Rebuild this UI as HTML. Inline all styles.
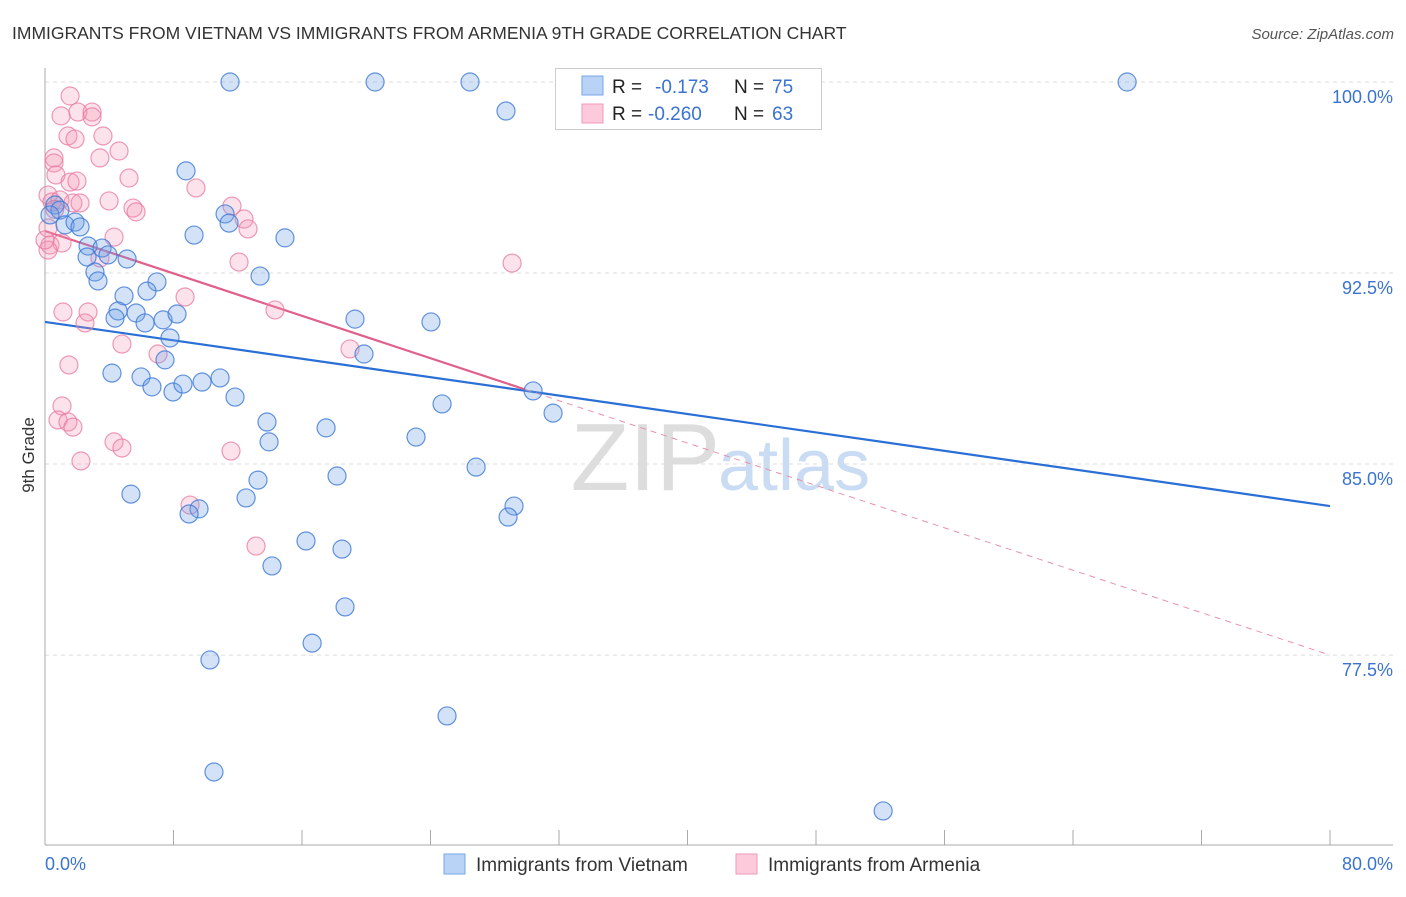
<!DOCTYPE html>
<html><head><meta charset="utf-8"><style>
body{margin:0;background:#fff;font-family:"Liberation Sans",sans-serif;}
svg text{font-family:"Liberation Sans",sans-serif;}
</style></head><body>
<svg id="chart" width="1406" height="892" viewBox="0 0 1406 892">
<text x="12" y="39" font-size="17.5" fill="#333">IMMIGRANTS FROM VIETNAM VS IMMIGRANTS FROM ARMENIA 9TH GRADE CORRELATION CHART</text>
<text x="1394" y="39" font-size="15" fill="#555" font-style="italic" text-anchor="end">Source: ZipAtlas.com</text>
<text x="720" y="490" font-size="96" fill="#ddd" text-anchor="end" font-family="Liberation Serif">ZIP</text>
<text x="718" y="490" font-size="72" fill="#c9dcf3">atlas</text>
<g id="grid"></g>
<g id="axes"></g>
<g id="lines"></g>
<g id="pts"></g>
<text transform="translate(34,455) rotate(-90)" font-size="17" fill="#333" text-anchor="middle">9th Grade</text>
<g>
<rect x="555.5" y="68.5" width="266" height="61" fill="#fff" stroke="#ccc"/>
<rect x="582" y="76" width="21" height="19" fill="#b8d3f5" stroke="#7aa6e6"/>
<rect x="582" y="104" width="21" height="19" fill="#fccadb" stroke="#f09ab8"/>
<text x="612" y="93" font-size="19" fill="#222">R = </text><text x="655" y="93" font-size="19" fill="#3a73d0">-0.173</text>
<text x="734" y="93" font-size="19" fill="#222">N = </text><text x="772" y="93" font-size="19" fill="#3a73d0">75</text>
<text x="612" y="120" font-size="19" fill="#222">R = </text><text x="648" y="120" font-size="19" fill="#3a73d0">-0.260</text>
<text x="734" y="120" font-size="19" fill="#222">N = </text><text x="772" y="120" font-size="19" fill="#3a73d0">63</text>
</g>
<g>
<rect x="444" y="854" width="21" height="20" fill="#b8d3f5" stroke="#7aa6e6"/>
<text x="476" y="871" font-size="19" fill="#333">Immigrants from Vietnam</text>
<rect x="736" y="854" width="21" height="20" fill="#fccadb" stroke="#f09ab8"/>
<text x="768" y="871" font-size="19" fill="#333">Immigrants from Armenia</text>
</g>
</svg>
<script>
const yTicks=[100,92.5,85,77.5];
const yTickLabels=["100.0%","92.5%","85.0%","77.5%"];
const xTicks=[0,10,20,30,40,50,60,70,80,90,100].map(v=>v*0.8);
const xEndLabels=["0.0%","80.0%"];
const vietX=[11.52,20.55,26.46,43.15,67.37,28.70,8.78,11.21,11.46,9.28,14.94,0.62,0.93,0.31,1.25,1.87,2.18,2.68,3.55,3.92,2.62,5.11,3.11,3.30,13.39,6.97,6.35,4.92,4.55,4.36,5.67,6.23,7.35,8.22,19.30,24.03,7.78,7.47,19.86,4.17,5.98,6.66,7.97,8.59,9.78,10.90,11.83,30.39,24.72,31.63,13.82,13.95,17.50,23.10,26.84,13.26,18.18,5.35,12.52,9.59,8.97,29.20,28.83,16.25,18.49,14.13,18.68,16.63,10.27,25.03,10.52,52.18];
const vietY=[100,100,100,100,100,98.86,96.51,94.82,94.46,93.99,93.88,95.17,94.97,94.78,94.39,94.50,94.31,93.56,93.48,93.21,93.13,93.05,92.54,92.19,92.38,92.15,91.79,91.60,91.01,90.73,90.93,90.54,90.66,90.89,90.69,90.58,89.95,89.09,89.32,88.57,88.42,88.03,87.83,88.14,88.22,88.38,87.63,87.87,87.36,87.00,86.65,85.87,86.42,86.06,84.88,84.37,84.53,83.82,83.67,83.24,83.04,83.35,82.92,81.98,81.66,81.00,79.39,77.97,77.31,75.11,72.91,71.38];
const armX=[1.56,2.05,2.93,2.93,1.00,1.43,1.87,3.61,0.56,0.56,3.42,4.61,0.68,1.56,1.99,5.23,9.40,0.19,0.44,0.93,1.74,2.18,3.99,11.64,5.48,5.67,12.39,0.19,12.64,4.30,0.31,1.06,0.19,3.42,12.08,29.08,8.72,1.12,2.68,2.49,14.32,4.79,7.04,18.99,1.49,1.06,0.81,1.43,1.74,4.30,4.79,11.58,2.24,9.03,13.14,0,0.6];
const armY=[99.45,98.82,98.82,98.63,98.67,97.88,97.76,97.88,97.02,96.82,97.02,97.29,96.35,96.07,96.11,96.23,95.84,95.56,95.29,95.37,95.25,95.25,95.33,95.13,95.05,94.90,94.62,94.27,94.23,93.91,93.60,93.68,93.40,93.09,92.93,92.89,91.56,90.97,90.97,90.54,91.05,89.71,89.32,89.52,88.89,87.28,86.73,86.65,86.45,85.87,85.63,85.51,85.12,83.39,81.78,93.8,95.0];
const vietTrend=[90.58,83.35];
const armTrend=[94.15,77.5];
const armSolidEnd=29.9;
const X=v=>45+v*16.0625, Y=v=>82+(100-v)*25.47;
const NS="http://www.w3.org/2000/svg";
function mk(tag,attrs,parent){const e=document.createElementNS(NS,tag);for(const k in attrs)e.setAttribute(k,attrs[k]);parent.appendChild(e);return e;}
const grid=document.getElementById('grid'),axes=document.getElementById('axes'),lines=document.getElementById('lines'),pts=document.getElementById('pts');
yTicks.forEach((t,i)=>{
 const l=mk('line',{x1:45,x2:1393,y1:Y(t),y2:Y(t),stroke:'#ddd','stroke-dasharray':'4,4'},grid);
 
 
 const tx=mk('text',{x:1393,y:Y(t)+21,'font-size':18,fill:'#3a73d0','text-anchor':'end'},axes);
 tx.textContent=yTickLabels[i];
 
 
});
const ya=mk('line',{x1:45,x2:45,y1:68,y2:845,stroke:'#aaa'},axes);


const xa=mk('line',{x1:45,x2:1393,y1:845,y2:845,stroke:'#aaa'},axes);


xTicks.forEach(t=>{
 const l=mk('line',{x1:X(t),x2:X(t),y1:830,y2:845,stroke:'#aaa'},axes);
 
 
});
[[0,'start'],[80,'end']].forEach((p,i)=>{
 const tx=mk('text',{x:i?1393:45,y:870,'font-size':18,fill:'#3a73d0','text-anchor':p[1]},axes);
 tx.textContent=xEndLabels[i];
 
 
});
function drawPts(xs,ys,fill,stroke,name){
 xs.forEach((x,i)=>{
  const c=mk('circle',{cx:X(x),cy:Y(ys[i]),r:9,fill:fill,stroke:stroke,'stroke-width':1.2},pts);
  
  
 });
}
drawPts(armX,armY,'rgba(244,150,180,0.28)','rgba(232,120,160,0.75)','armenia-point');
drawPts(vietX,vietY,'rgba(110,160,230,0.3)','rgba(60,120,215,0.8)','vietnam-point');
const at=v=>armTrend[0]+(armTrend[1]-armTrend[0])*v/80;
const bl=mk('line',{x1:X(0),y1:Y(vietTrend[0]),x2:X(80),y2:Y(vietTrend[1]),stroke:'#2a6fd6','stroke-width':2.2},lines);


const pl=mk('line',{x1:X(0),y1:Y(at(0)),x2:X(armSolidEnd),y2:Y(at(armSolidEnd)),stroke:'#e0608a','stroke-width':2.2},lines);


const pd=mk('line',{x1:X(armSolidEnd),y1:Y(at(armSolidEnd)),x2:X(80),y2:Y(at(80)),stroke:'#e891ae','stroke-width':1,'stroke-dasharray':'6,5'},lines);


</script>
</body></html>
